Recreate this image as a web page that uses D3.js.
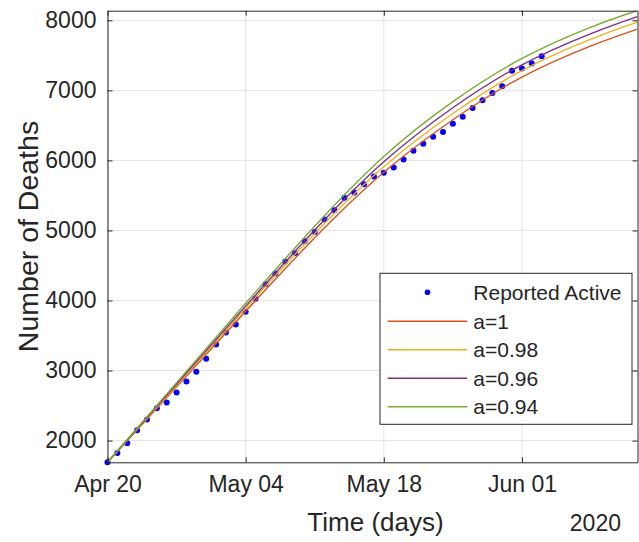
<!DOCTYPE html>
<html>
<head>
<meta charset="utf-8">
<script src="https://cdn.jsdelivr.net/npm/d3@7"></script>
<style>
  html, body { margin: 0; padding: 0; background: #ffffff; }
  svg { display: block; font-family: "Liberation Sans", Arial, Helvetica, sans-serif; }
</style>
</head>
<body>
<svg id="chart" width="639" height="542"></svg>
<script>
// ---------- data ----------
const startDate = "2020-04-20";
const endDate = "2020-06-12T17:00";
const yMin = 1690, yMax = 8137;
const xTickLabels = ["Apr 20", "May 04", "May 18", "Jun 01"];
const xTickDates = ["2020-04-20", "2020-05-04", "2020-05-18", "2020-06-01"];
const yTicks = [2000, 3000, 4000, 5000, 6000, 7000, 8000];

// reported values, one per day starting Apr 20
const reported = [1690, 1824, 1963, 2149, 2301, 2463, 2544, 2687, 2844, 2981,
  3167, 3372, 3544, 3658, 3838, 4024, 4233, 4386, 4557, 4676,
  4847, 4976, 5157, 5290, 5466, 5543, 5661, 5771, 5823, 5900,
  6014, 6137, 6237, 6337, 6404, 6523, 6623, 6747, 6857, 6961,
  7057, 7280, 7313, 7385, 7485];

// model curves, sampled at these day offsets from Apr 20
const curveDays = [0, 7, 14, 21, 28, 35, 42, 49, 53.7];
const a100 = [1690, 2768, 3845, 4895, 5830, 6580, 7190, 7635, 7875];
const a098 = [1690, 2790, 3890, 4957, 5910, 6670, 7283, 7731, 7973];
const a096 = [1690, 2808, 3920, 5005, 5980, 6752, 7365, 7811, 8053];
const a094 = [1690, 2828, 3960, 5060, 6055, 6838, 7455, 7903, 8140];

const seriesNames = ["a=1", "a=0.98", "a=0.96", "a=0.94"];
const seriesValues = [a100, a098, a096, a094];
const seriesColors = ["#D95319", "#EDB120", "#7E2F8E", "#77AC30"];

// ---------- layout ----------
const plot = { left: 107.5, right: 637.5, top: 10.7, bottom: 462.3 };
const axisColor = "#262626";
const gridColor = "#e3e3e3";

const svg = d3.select("#chart");
const parse = d3.isoParse;
const t0 = parse(startDate);

const x = d3.scaleTime().domain([t0, parse(endDate)]).range([plot.left, plot.right]);
const y = d3.scaleLinear().domain([yMin, yMax]).range([plot.bottom, plot.top]);

const dayToDate = d => new Date(t0.getTime() + d * 86400000);

// grid
const gx = svg.append("g");
xTickDates.forEach(ds => {
  const px = x(parse(ds));
  gx.append("line").attr("x1", px).attr("x2", px).attr("y1", plot.top).attr("y2", plot.bottom)
    .attr("stroke", gridColor).attr("stroke-width", 1);
});
yTicks.forEach(v => {
  gx.append("line").attr("x1", plot.left).attr("x2", plot.right).attr("y1", y(v)).attr("y2", y(v))
    .attr("stroke", gridColor).attr("stroke-width", 1);
});

// clip
svg.append("clipPath").attr("id", "clip").append("rect")
  .attr("x", plot.left - 4).attr("y", plot.top)
  .attr("width", plot.right - plot.left + 4).attr("height", plot.bottom - plot.top + 4);

const gData = svg.append("g").attr("clip-path", "url(#clip)");

// reported dots
gData.selectAll("circle.rep").data(reported).enter().append("circle")
  .attr("class", "rep")
  .attr("cx", (d, i) => x(d3.timeDay.offset(t0, i)))
  .attr("cy", d => y(d))
  .attr("r", 3)
  .attr("fill", "#0000FF");

// model lines
const line = d3.line()
  .x(d => x(dayToDate(d[0])))
  .y(d => y(d[1]))
  .curve(d3.curveNatural);

const gLines = svg.append("g").attr("clip-path", "url(#clip2)");
svg.append("clipPath").attr("id", "clip2").append("rect")
  .attr("x", plot.left).attr("y", plot.top)
  .attr("width", plot.right - plot.left).attr("height", plot.bottom - plot.top);

seriesValues.forEach((vals, k) => {
  const pts = curveDays.map((d, i) => [d, vals[i]]);
  gLines.append("path").datum(pts)
    .attr("d", line)
    .attr("fill", "none")
    .attr("stroke", seriesColors[k])
    .attr("stroke-width", 1.4);
});

// axes box
const xAxisB = d3.axisBottom(x).tickValues(xTickDates.map(parse)).tickFormat((d, i) => xTickLabels[i])
  .tickSizeInner(-5).tickSizeOuter(0).tickPadding(13);
const xAxisT = d3.axisTop(x).tickValues(xTickDates.map(parse)).tickFormat("")
  .tickSizeInner(-5).tickSizeOuter(0);
const yAxisL = d3.axisLeft(y).tickValues(yTicks).tickFormat(d3.format("d"))
  .tickSizeInner(-5).tickSizeOuter(0).tickPadding(11);
const yAxisR = d3.axisRight(y).tickValues(yTicks).tickFormat("")
  .tickSizeInner(-5).tickSizeOuter(0);

function styleAxis(g) {
  g.selectAll("path.domain").attr("stroke", axisColor).attr("stroke-width", 1);
  g.selectAll(".tick line").attr("stroke", axisColor).attr("stroke-width", 1);
  g.selectAll(".tick text").attr("fill", axisColor).attr("font-size", 23)
    .attr("font-family", "'Liberation Sans', Arial, sans-serif");
}

svg.append("g").attr("transform", `translate(0,${plot.bottom})`).call(xAxisB).call(styleAxis);
svg.append("g").attr("transform", `translate(0,${plot.top})`).call(xAxisT).call(styleAxis);
svg.append("g").attr("transform", `translate(${plot.left},0)`).call(yAxisL).call(styleAxis);
svg.append("g").attr("transform", `translate(${plot.right},0)`).call(yAxisR).call(styleAxis);

// labels
svg.append("text").attr("x", (plot.left + plot.right) / 2 + 3).attr("y", 531)
  .attr("text-anchor", "middle").attr("font-size", 26).attr("fill", axisColor)
  .text("Time (days)");
svg.append("text").attr("x", 621).attr("y", 531)
  .attr("text-anchor", "end").attr("font-size", 23).attr("fill", axisColor)
  .text("2020");
svg.append("text")
  .attr("transform", `translate(38,${(plot.top + plot.bottom) / 2}) rotate(-90)`)
  .attr("text-anchor", "middle").attr("font-size", 28.5).attr("fill", axisColor)
  .text("Number of Deaths");

// legend
const lg = svg.append("g");
const lgBox = { x: 380, y: 273.3, w: 252, h: 151 };
lg.append("rect").attr("x", lgBox.x).attr("y", lgBox.y).attr("width", lgBox.w).attr("height", lgBox.h)
  .attr("fill", "#ffffff").attr("stroke", axisColor).attr("stroke-width", 1);
const rowY = [292.3, 321.3, 349.8, 378.3, 406.7];
const lineX1 = 387.7, lineX2 = 467.3, textX = 473.3;
lg.append("circle").attr("cx", (lineX1 + lineX2) / 2).attr("cy", rowY[0]).attr("r", 2.8).attr("fill", "#0000FF");
lg.append("text").attr("x", textX).attr("y", rowY[0]).attr("dy", "0.35em")
  .attr("font-size", 21).attr("fill", axisColor).text("Reported Active");
seriesNames.forEach((nm, k) => {
  lg.append("line").attr("x1", lineX1).attr("x2", lineX2).attr("y1", rowY[k + 1]).attr("y2", rowY[k + 1])
    .attr("stroke", seriesColors[k]).attr("stroke-width", 1.4);
  lg.append("text").attr("x", textX).attr("y", rowY[k + 1]).attr("dy", "0.35em")
    .attr("font-size", 21).attr("fill", axisColor).text(nm);
});
</script>
</body>
</html>
